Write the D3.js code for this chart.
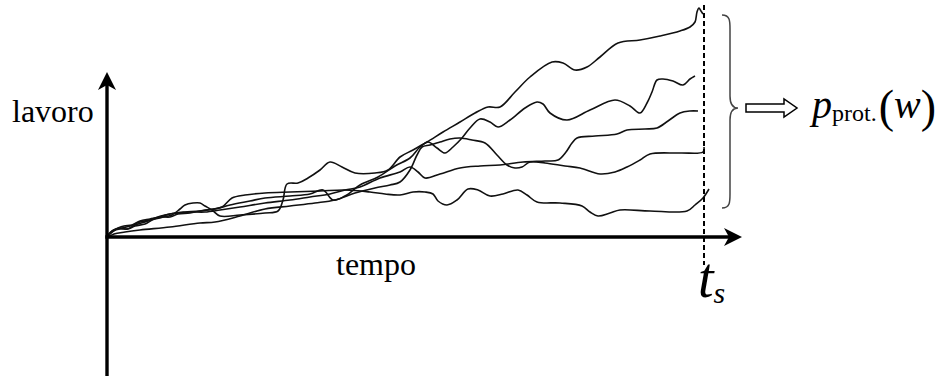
<!DOCTYPE html>
<html><head><meta charset="utf-8"><script src="https://cdn.jsdelivr.net/npm/d3@7"></script></head>
<body style="margin:0">
<svg id="chart" width="952" height="376"></svg>
<script>
// Work trajectories sampled over time, each as [time, work] pairs.
const pathA = [[0,0],[4,5],[9,8],[15,9],[23,11],[33,15],[43,17],[53,19],[61,21],[65,22],[73,28],[78,32],[86,34],[93,34],[98,31],[105,27],[113,21],[133,22],[158,24],[171,26],[176,37],[180,53],[191,54],[201,59],[213,67],[223,75],[235,70],[248,64],[268,64],[281,67],[293,80],[306,87],[320,95],[336,105],[353,115],[368,124],[381,130],[393,130],[408,145],[423,160],[445,175],[456,174],[468,167],[480,170],[493,180],[511,194],[533,197],[553,201],[573,206],[583,210],[588,215],[590,225],[592,229],[594,226],[596,223]];
const pathB = [[0,0],[3,3],[8,7],[13,9],[20,8],[28,12],[38,15],[48,19],[58,22],[68,24],[78,25],[93,26],[108,28],[123,32],[143,36],[158,39],[183,41],[203,43],[216,47],[226,37],[238,41],[253,52],[271,60],[288,71],[303,79],[313,90],[321,95],[330,89],[338,84],[346,90],[355,99],[363,109],[373,118],[383,115],[391,110],[403,117],[418,129],[430,135],[436,133],[443,124],[460,117],[483,127],[508,137],[523,131],[533,124],[540,134],[545,145],[550,157],[556,158],[566,156],[576,152],[583,158],[588,161]];
const pathC = [[0,1],[5,6],[11,9],[17,11],[25,12],[33,16],[43,18],[53,20],[63,23],[73,24],[83,25],[98,25],[113,27],[133,30],[158,34],[183,37],[203,40],[223,43],[238,47],[253,50],[273,59],[293,65],[303,70],[311,65],[318,59],[333,63],[353,69],[373,71],[393,72],[416,75],[438,76],[451,77],[459,85],[465,94],[470,99],[488,101],[510,103],[520,107],[538,108],[550,109],[561,116],[573,124],[583,126],[591,126]];
const pathD = [[1,0],[7,3],[18,5],[33,7],[63,10],[93,14],[108,15],[133,21],[158,28],[183,31],[208,34],[228,37],[248,44],[268,49],[283,52],[293,55],[303,67],[310,82],[315,90],[323,92],[333,95],[343,98],[353,99],[365,97],[378,94],[390,82],[400,72],[408,69],[415,70],[423,75],[438,74],[458,71],[473,69],[493,63],[508,65],[520,70],[533,77],[543,83],[573,84],[596,85],[597,90]];
const pathE = [[0,0],[6,6],[13,8],[21,8],[28,11],[38,13],[45,17],[53,20],[63,20],[71,23],[83,24],[98,27],[115,30],[125,39],[138,42],[158,44],[183,45],[213,46],[238,47],[263,45],[278,43],[293,42],[306,45],[318,45],[326,43],[331,36],[340,32],[350,37],[361,48],[371,47],[383,41],[396,43],[411,47],[420,42],[430,35],[453,34],[475,31],[483,25],[491,21],[503,24],[513,27],[543,26],[580,26],[588,32],[596,39],[602,48]];
const trajectories = [pathA, pathB, pathC, pathD, pathE];

// Axis labels and annotation texts
const yLabel = "lavoro";
const xLabel = "tempo";
const tStop = 597;          // switching time t_s
const tStopMain = "t", tStopSub = "s";
const distMain = "p", distSub = "prot.", distArg = "w";

const labelFont = 'Tinos, "Times New Roman", "Liberation Serif", serif';

const svg = d3.select("#chart");

const x = d3.scaleLinear().domain([0, 600]).range([107, 707]);
const y = d3.scaleLinear().domain([0, 240]).range([237, -3]);

// Trajectories
const line = d3.line()
  .x(d => x(d[0]))
  .y(d => y(d[1]))
  .curve(d3.curveCatmullRom.alpha(0.5));

svg.append("g")
  .selectAll("path")
  .data(trajectories)
  .join("path")
  .attr("d", line)
  .attr("fill", "none")
  .attr("stroke", "#111")
  .attr("stroke-width", 1.6)
  .attr("stroke-linejoin", "round");

// Axes with arrowheads
const axisColor = "#000";
const yAxisTip = 165, yAxisBottom = -145;
const xAxisTip = 635;

svg.append("line")
  .attr("x1", x(0)).attr("x2", x(0))
  .attr("y1", y(yAxisBottom)).attr("y2", y(yAxisTip) + 8)
  .attr("stroke", axisColor).attr("stroke-width", 3.4);

svg.append("line")
  .attr("x1", x(0) - 1.7).attr("x2", x(xAxisTip) - 8)
  .attr("y1", y(0)).attr("y2", y(0))
  .attr("stroke", axisColor).attr("stroke-width", 3.4);

// arrowhead shape: tip, two barbs, and a notch
function arrowHead(tx, ty, dir) {
  const len = 18, half = 9, notch = 5;
  if (dir === "up") {
    return `M${tx},${ty} L${tx + half},${ty + len} L${tx},${ty + len - notch} L${tx - half},${ty + len} Z`;
  }
  return `M${tx},${ty} L${tx - len},${ty - half} L${tx - len + notch},${ty} L${tx - len},${ty + half} Z`;
}
svg.append("path").attr("d", arrowHead(x(0), y(yAxisTip), "up")).attr("fill", axisColor);
svg.append("path").attr("d", arrowHead(x(xAxisTip), y(0), "right")).attr("fill", axisColor);

// Dashed stopping-time marker
svg.append("line")
  .attr("x1", x(tStop)).attr("x2", x(tStop))
  .attr("y1", y(232)).attr("y2", y(-28))
  .attr("stroke", "#000")
  .attr("stroke-width", 2)
  .attr("stroke-dasharray", "5,3");

// Curly brace gathering the end values
const bTop = y(222), bBot = y(29), bMid = y(129);
const bx0 = x(615), bx1 = x(623), bx2 = x(631);
const brace = `M${bx0},${bTop} C${bx1},${bTop} ${bx1},${bTop + 6} ${bx1},${bTop + 14}
  L${bx1},${bMid - 12} C${bx1},${bMid - 3} ${bx1 + 4},${bMid} ${bx2},${bMid}
  C${bx1 + 4},${bMid} ${bx1},${bMid + 3} ${bx1},${bMid + 12}
  L${bx1},${bBot - 14} C${bx1},${bBot - 6} ${bx1},${bBot} ${bx0},${bBot}`;
svg.append("path")
  .attr("d", brace)
  .attr("fill", "none")
  .attr("stroke", "#444")
  .attr("stroke-width", 1.5);

// Hollow implication arrow
const ax0 = x(639), ax1 = x(677), ax2 = x(690);
const ay = bMid;
const hollow = `M${ax0},${ay - 4} L${ax1},${ay - 4} L${ax1},${ay - 9} L${ax2},${ay} L${ax1},${ay + 9} L${ax1},${ay + 4} L${ax0},${ay + 4} Z`;
svg.append("path")
  .attr("d", hollow)
  .attr("fill", "#fff")
  .attr("stroke", "#000")
  .attr("stroke-width", 1.5)
  .attr("stroke-linejoin", "miter");

// Axis labels
const axisLabels = [
  { text: yLabel, x: 12, y: 122 },
  { text: xLabel, x: 336, y: 275 }
];
svg.selectAll("text.axis-label")
  .data(axisLabels)
  .join("text")
  .attr("class", "axis-label")
  .attr("x", d => d.x).attr("y", d => d.y)
  .attr("font-size", 32)
  .attr("font-family", labelFont)
  .style("font-family", labelFont)
  .text(d => d.text);

// t_s under the dashed marker
const ts = svg.append("text")
  .attr("x", x(tStop) - 6).attr("y", 297)
  .attr("font-size", 56)
  .attr("font-family", labelFont)
  .style("font-family", labelFont)
  .style("font-style", "italic");
ts.append("tspan").text(tStopMain);
ts.append("tspan")
  .attr("font-size", 30)
  .attr("dy", 6)
  .text(tStopSub);

// p_prot.(w)
const pw = svg.append("text")
  .attr("x", 812).attr("y", 118)
  .attr("font-size", 40)
  .attr("font-family", labelFont)
  .style("font-family", labelFont);
pw.append("tspan").style("font-style", "italic").text(distMain);
pw.append("tspan").attr("font-size", 24).attr("dy", 3).text(distSub);
pw.append("tspan").attr("font-size", 46).attr("dy", 1).attr("dx", 2).text("(");
pw.append("tspan").style("font-style", "italic").attr("font-size", 40).attr("dy", -4).text(distArg);
pw.append("tspan").attr("font-size", 46).attr("dy", 4).text(")");
</script>
</body>
</html>
